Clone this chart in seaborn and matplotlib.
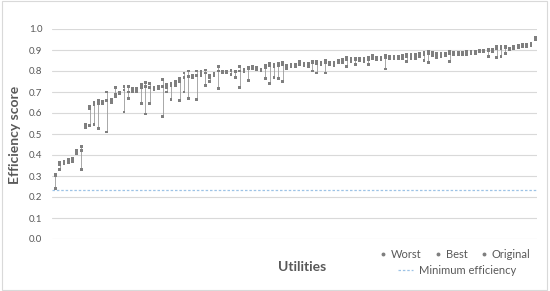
import matplotlib
matplotlib.use('Agg')
import matplotlib.pyplot as plt
from matplotlib.lines import Line2D
from matplotlib.patches import Rectangle
import numpy as np
import pandas as pd
import seaborn as sns

# efficiency scores per utility, sorted roughly by best score
best = [0.31, 0.365, 0.37, 0.38, 0.385, 0.42, 0.44, 0.545, 0.63, 0.65,
        0.66, 0.655, 0.70, 0.665, 0.72, 0.70, 0.725, 0.725, 0.715, 0.715,
        0.735, 0.745, 0.74, 0.72, 0.725, 0.76, 0.735, 0.74, 0.75, 0.765,
        0.79, 0.80, 0.78, 0.80, 0.80, 0.805, 0.78, 0.79, 0.82, 0.80,
        0.80, 0.805, 0.80, 0.82, 0.81, 0.815, 0.82, 0.815, 0.81, 0.825,
        0.835, 0.83, 0.835, 0.84, 0.825, 0.83, 0.83, 0.845, 0.835, 0.835,
        0.845, 0.845, 0.84, 0.85, 0.84, 0.84, 0.85, 0.855, 0.865, 0.86,
        0.86, 0.86, 0.86, 0.865, 0.875, 0.865, 0.865, 0.875, 0.87, 0.87,
        0.87, 0.875, 0.88, 0.88, 0.88, 0.885, 0.89, 0.895, 0.89, 0.885,
        0.885, 0.885, 0.895, 0.89, 0.89, 0.89, 0.895, 0.895, 0.895, 0.90,
        0.90, 0.905, 0.905, 0.915, 0.915, 0.915, 0.91, 0.915, 0.92, 0.925,
        0.925, 0.93, 0.96]
original = [0.30, 0.355, 0.365, 0.37, 0.375, 0.41, 0.42, 0.54, 0.62, 0.64,
            0.645, 0.65, 0.66, 0.655, 0.69, 0.695, 0.71, 0.70, 0.705, 0.705,
            0.72, 0.725, 0.72, 0.715, 0.72, 0.725, 0.72, 0.73, 0.735, 0.75,
            0.77, 0.775, 0.775, 0.78, 0.79, 0.79, 0.77, 0.785, 0.80, 0.795,
            0.795, 0.80, 0.795, 0.80, 0.80, 0.81, 0.815, 0.81, 0.805, 0.815,
            0.825, 0.82, 0.825, 0.83, 0.82, 0.825, 0.825, 0.835, 0.83, 0.83,
            0.84, 0.835, 0.835, 0.84, 0.835, 0.835, 0.845, 0.845, 0.855, 0.855,
            0.855, 0.855, 0.855, 0.855, 0.865, 0.86, 0.86, 0.865, 0.865, 0.865,
            0.865, 0.87, 0.87, 0.875, 0.875, 0.88, 0.88, 0.885, 0.885, 0.88,
            0.88, 0.88, 0.885, 0.885, 0.885, 0.885, 0.89, 0.89, 0.89, 0.895,
            0.895, 0.895, 0.90, 0.905, 0.905, 0.91, 0.905, 0.91, 0.915, 0.92,
            0.92, 0.925, 0.955]
worst = [0.24, 0.33, 0.36, 0.365, 0.37, 0.405, 0.33, 0.53, 0.54, 0.545,
         0.525, 0.645, 0.51, 0.65, 0.68, 0.69, 0.605, 0.67, 0.70, 0.70,
         0.645, 0.595, 0.645, 0.71, 0.715, 0.585, 0.70, 0.665, 0.73, 0.66,
         0.70, 0.67, 0.77, 0.665, 0.78, 0.73, 0.75, 0.78, 0.715, 0.79,
         0.79, 0.785, 0.77, 0.72, 0.795, 0.755, 0.81, 0.805, 0.80, 0.765,
         0.74, 0.77, 0.765, 0.75, 0.81, 0.82, 0.82, 0.83, 0.825, 0.82,
         0.80, 0.79, 0.83, 0.79, 0.83, 0.825, 0.84, 0.84, 0.82, 0.845,
         0.83, 0.85, 0.845, 0.83, 0.86, 0.855, 0.855, 0.81, 0.86, 0.86,
         0.86, 0.86, 0.845, 0.86, 0.86, 0.87, 0.85, 0.84, 0.875, 0.865,
         0.87, 0.875, 0.845, 0.88, 0.88, 0.88, 0.88, 0.885, 0.885, 0.89,
         0.89, 0.87, 0.89, 0.865, 0.87, 0.885, 0.90, 0.905, 0.91, 0.915,
         0.915, 0.92, 0.95]
min_efficiency = 0.233
y_ticks = [0.0, 0.1, 0.2, 0.3, 0.4, 0.5, 0.6, 0.7, 0.8, 0.9, 1.0]

sns.set_theme(style='white')
plt.rcParams['font.family'] = ['Lato', 'DejaVu Sans']

grey_text = '#595959'
mark_col = '#7f7f7f'

df = pd.DataFrame({'utility': np.arange(len(best)), 'Worst': worst,
                   'Best': best, 'Original': original})
long = df.melt(id_vars='utility', var_name='kind', value_name='score')

fig = plt.figure(figsize=(5.5, 2.91), dpi=100)
ax = fig.add_axes([52 / 550, 1 - 239 / 291, (537 - 52) / 550, 210 / 291])

ax.vlines(df['utility'], df['Worst'], df['Best'], color='#9a9a9a', lw=0.6, zorder=2)
sns.scatterplot(data=long, x='utility', y='score', hue='kind',
                palette={'Worst': mark_col, 'Best': mark_col, 'Original': mark_col},
                marker='s', s=4, linewidth=0, legend=False, ax=ax, zorder=3)
ax.axhline(min_efficiency, color='#9dc3e6', lw=0.9, ls=(0, (2, 1.5)), zorder=1)

ax.set_xlim(-0.8, len(best) - 0.6)
ax.set_ylim(0, 1.0)
ax.set_yticks(y_ticks)
ax.set_yticklabels([f'{t:.1f}' for t in y_ticks], fontsize=7, color=grey_text)
ax.set_xticks([])
ax.tick_params(axis='y', length=0, pad=7)
ax.grid(axis='y', color='#d9d9d9', lw=0.8)
ax.set_axisbelow(True)
for s in ax.spines.values():
    s.set_visible(False)
ax.set_xlabel('')
ax.set_ylabel('')

fig.text(15 / 550, 1 - 135 / 291, 'Efficiency score', rotation=90, ha='center',
         va='center', fontsize=10, fontweight='bold', color=grey_text)
fig.text(302 / 550, 1 - 267 / 291, 'Utilities', ha='center', va='center',
         fontsize=10, fontweight='bold', color=grey_text)

handles = [Line2D([], [], marker='o', ls='', color=mark_col, markersize=1.8)
           for _ in range(3)]
leg1 = fig.legend(handles, ['Worst', 'Best', 'Original'], ncol=3, loc='center',
                  bbox_to_anchor=(455 / 550, 1 - 254 / 291), frameon=False,
                  fontsize=8, handlelength=0.6, handletextpad=0.4,
                  columnspacing=1.2, labelcolor=grey_text)
leg2 = fig.legend([Line2D([], [], color='#9dc3e6', lw=0.9, ls=(0, (2, 1.5)))],
                  ['Minimum efficiency'], loc='center',
                  bbox_to_anchor=(457 / 550, 1 - 270 / 291), frameon=False,
                  fontsize=8, handlelength=1.4, handletextpad=0.5,
                  labelcolor=grey_text)

fig.patches.append(Rectangle((0.004, 0.005), 0.99, 0.99, transform=fig.transFigure,
                             fill=False, edgecolor='#d9d9d9', lw=0.8))

fig.savefig('out.png', dpi=100)
